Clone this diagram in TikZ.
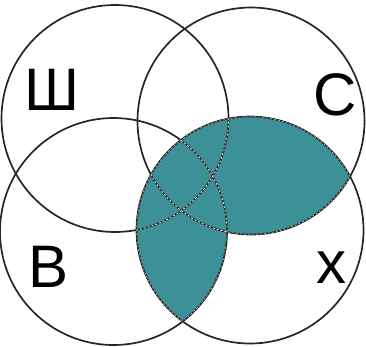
\documentclass[tikz,border=0pt]{standalone}
\usepackage{fontspec}
\setmainfont{Liberation Sans}
\usetikzlibrary{positioning}
\definecolor{lens}{RGB}{60,145,152}
\newcommand{\ringr}{113.5pt}
\tikzstyle{ring} = [draw=black!85, line width=1.7pt]
\tikzstyle{seam} = [draw=white, line width=0.7pt, dash pattern=on 2pt off 2pt]
\tikzstyle{letter} = [anchor=base, inner sep=0pt, font=\fontsize{60}{60}\selectfont]

\begin{document}
\begin{tikzpicture}[x=1pt, y=-1pt]
\useasboundingbox (0,0) rectangle (366,346);
\coordinate (sh) at (115,118.5);
\coordinate (s) at (251,121);
\coordinate (v) at (113.5,231.5);
\coordinate (h) at (250,230);
\begin{scope}
\clip (h) circle[radius=\ringr];
\fill[lens] (s) circle[radius=\ringr] (v) circle[radius=\ringr];
\end{scope}
\foreach \c in {sh,s,v,h}
  \draw[ring] (\c) circle[radius=\ringr];
\begin{scope}
\clip (h) circle[radius=\ringr];
\clip (s) circle[radius=\ringr] (v) circle[radius=\ringr];
\foreach \c in {sh,s,v,h}
  \draw[seam] (\c) circle[radius=\ringr];
\end{scope}
\node[letter] (lsh) at (52,110) {Ш};
\node[letter] (ls) at (335,115) {С};
\node[letter] (lv) at (49,287) {В};
\node[letter] (lh) at (331,283) {х};
\end{tikzpicture}
\end{document}
